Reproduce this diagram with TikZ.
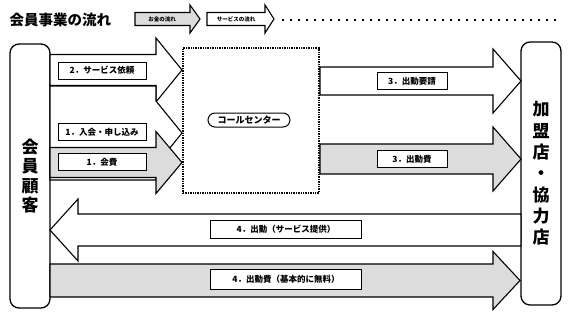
\documentclass[tikz,border=0pt]{standalone}
\usepackage{fontspec}
\newfontfamily\jp{Noto Sans CJK JP}
\usetikzlibrary{positioning}
\definecolor{mygray}{RGB}{220,220,220}
% block arrow: fill, x start, x head base, x tip, y centre, shaft half, head half
\newcommand{\blockarrow}[7]{%
  \draw[blockline,fill=#1] (#2,#5-#6) -- (#3,#5-#6) -- (#3,#5-#7) -- (#4,#5)
    -- (#3,#5+#7) -- (#3,#5+#6) -- (#2,#5+#6) -- cycle;}

\begin{document}
\begin{tikzpicture}[x=1pt,y=-1pt,
  blockline/.style={line width=1.1pt,line join=miter},
  bar/.style={draw,line width=1.3pt,rounded corners=9pt,fill=white,minimum width=40pt,
    align=center},
  lbl/.style={draw,fill=white,line width=1pt,minimum height=17pt,inner sep=1pt,
    font=\jp\bfseries\fontsize{8.5}{9}\selectfont}]
  \useasboundingbox (0,0) rectangle (569,319);

  % title and legend
  \node[anchor=west,font=\jp\bfseries\fontsize{14.5}{16}\selectfont] (title) at (6,20) {会員事業の流れ};
  \blockarrow{mygray}{135}{190}{200}{19}{6.5}{14}
  \blockarrow{white}{207}{265}{274}{19}{6.5}{14}
  \node[font=\jp\bfseries\fontsize{5.5}{6}\selectfont] (money) at (162,19) {お金の流れ};
  \node[font=\jp\bfseries\fontsize{5.5}{6}\selectfont] (service) at (236,19) {サービスの流れ};
  \draw[line width=1.6pt,dash pattern=on 1.6pt off 6.4pt] (282,20) -- (556,20);

  % members and partner shops
  \node[bar,minimum height=264pt,font=\jp\bfseries\fontsize{17}{19.5}\selectfont] (kokyaku)
    at (30,176) {会\\員\\顧\\客};
  \node[bar,minimum height=263pt,font=\jp\bfseries\fontsize{17}{21.3}\selectfont] (kameiten)
    at (541,173.5) {加\\盟\\店\\・\\協\\力\\店};

  % call centre
  \node[draw,line width=1.6pt,dash pattern=on 1.4pt off 1pt,minimum width=136pt,
    minimum height=145pt] (callcenter) at (251,120.5) {};
  \node[draw,line width=1pt,rounded corners=7pt,minimum width=82pt,minimum height=14pt,
    inner sep=1pt,font=\jp\bfseries\fontsize{9}{9}\selectfont] (cc) at (249,120) {コールセンター};

  % left side
  \blockarrow{white}{50}{156}{182}{70}{15.5}{32}
  \blockarrow{white}{50}{156}{182}{133}{47}{32}
  \blockarrow{mygray}{50}{156}{182}{162.5}{15}{31}
  \node[lbl,minimum width=88pt] (irai) at (102,70.5) {2．サービス依頼};
  \node[lbl,minimum width=88pt] (nyukai) at (102,132) {1．入会・申し込み};
  \node[lbl,minimum width=88pt] (kaihi) at (102,162) {1．会費};

  % right side
  \blockarrow{white}{320}{493}{521}{81}{14}{32}
  \blockarrow{mygray}{320}{493}{521}{159}{15}{32}
  \node[lbl,minimum width=70pt] (yousei) at (412,81) {3．出動要請};
  \node[lbl,minimum width=70pt] (shutsudohi) at (412,159) {3．出動費};

  % bottom
  \blockarrow{white}{521}{78}{50}{230}{16}{31}
  \blockarrow{mygray}{50}{493}{520}{280.5}{16.5}{29}
  \node[lbl,minimum width=151pt,minimum height=18pt] (teikyo) at (286,229.5) {4．出動（サービス提供）};
  \node[lbl,minimum width=151pt,minimum height=20pt] (muryo) at (286,279) {4．出動費（基本的に無料）};
\end{tikzpicture}
\end{document}
